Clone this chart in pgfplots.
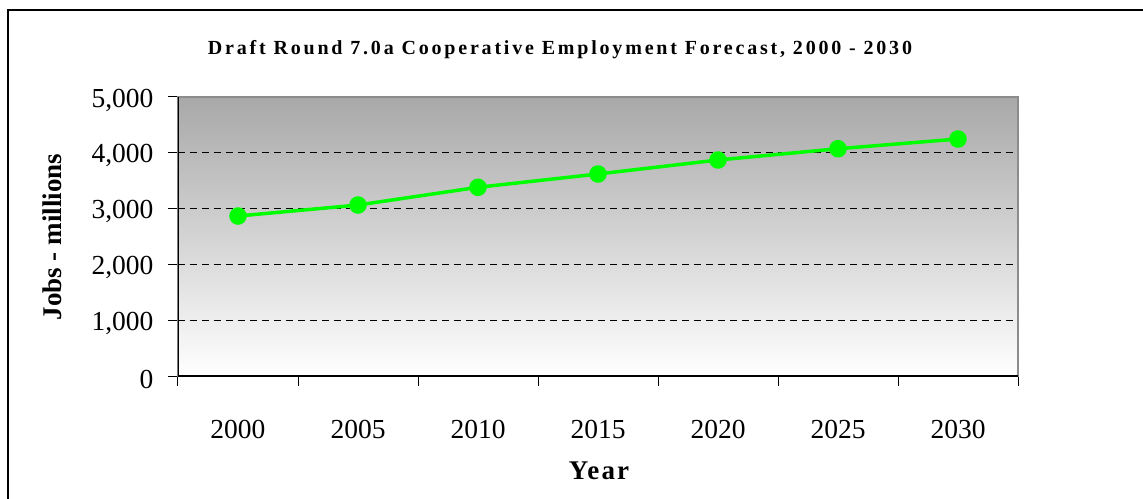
\documentclass[border=0pt]{standalone}
\usepackage{fontspec}
\setmainfont{Liberation Serif}
\usepackage{pgfplots}
\pgfplotsset{compat=1.18}
\definecolor{lime}{RGB}{0,255,0}
\begin{document}
\begin{tikzpicture}
\begin{axis}[
  at={(0,0)}, anchor=south west,
  scale only axis, width=840pt, height=279pt,
  xmin=-0.5, xmax=6.5, ymin=0, ymax=5000,
  xtick={0,...,6},
  xticklabels={2000,2005,2010,2015,2020,2025,2030},
  minor xtick={-0.5,0.5,...,6.5},
  major x tick style={draw=none},
  ytick={0,1000,...,5000},
  tick align=outside, xtick pos=bottom, ytick pos=left,
  major tick length=10pt, minor tick length=10pt,
  tick style={black, line width=1pt},
  ymajorgrids,
  grid style={black, dash pattern=on 7pt off 5pt, line width=0.8pt},
  axis line style={draw=black!45, line width=1.5pt},
  axis background/.style={shade, top color=black!34, bottom color=white},
  scaled y ticks=false,
  /pgf/number format/1000 sep={,},
  /pgf/number format/assume math mode=true,
  tick label style={font=\fontsize{27.5}{30}\selectfont},
  xticklabel style={anchor=base, yshift=-52pt},
  yticklabel style={anchor=east, xshift=-11pt, yshift=-3pt},
]
\addplot[color=lime, line width=3.5pt, mark=*, mark size=7pt, mark options={solid}]
  coordinates {(0,2867)(1,3064)(2,3382)(3,3620)(4,3871)(5,4073)(6,4247)};
\draw[black, line width=1.5pt] (rel axis cs:0,1) -- (rel axis cs:0,0) -- (rel axis cs:1,0);
\end{axis}
\node[anchor=base, font=\bfseries\fontsize{20}{24}\selectfont\addfontfeatures{LetterSpace=14}]
  at (382pt,321pt) {Draft Round 7.0a Cooperative Employment Forecast, 2000 - 2030};
\node[anchor=base, rotate=90, font=\bfseries\fontsize{27}{30}\selectfont]
  at (-116pt,139pt) {Jobs - millions};
\node[anchor=base, font=\bfseries\fontsize{27}{30}\selectfont\addfontfeatures{LetterSpace=8}]
  at (421pt,-103pt) {Year};
\draw[line width=2pt] (-170pt,-130pt) -- (-170pt,366pt) -- (975pt,366pt);
\pgfresetboundingbox
\path[use as bounding box] (-178pt,-122pt) rectangle (965pt,376pt);
\end{tikzpicture}
\end{document}
